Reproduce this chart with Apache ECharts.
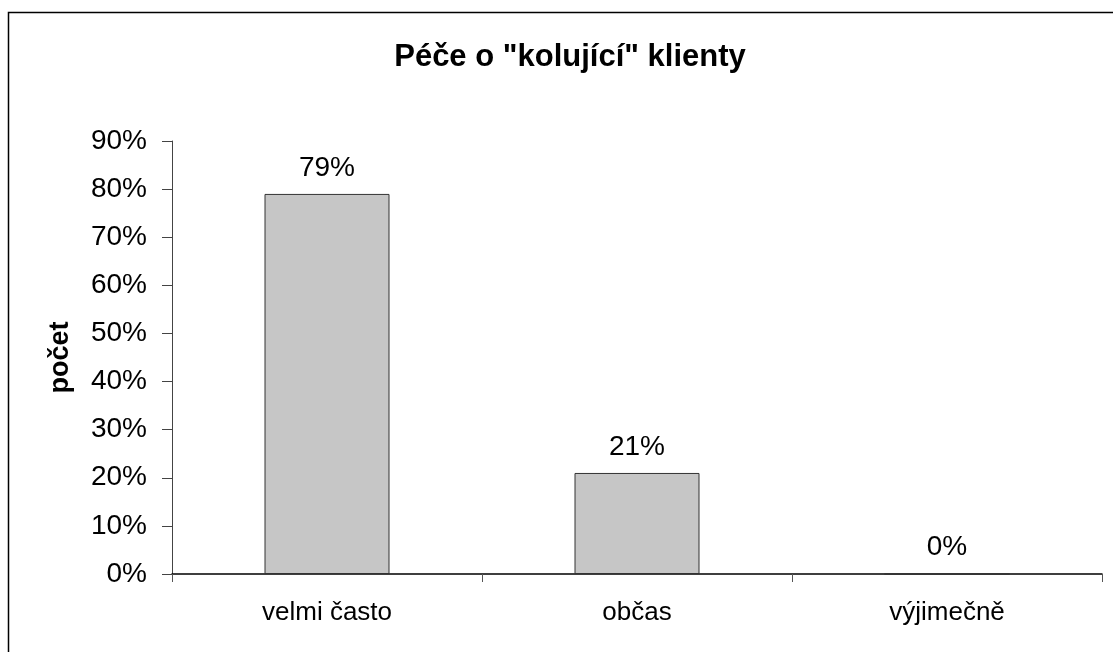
<!DOCTYPE html>
<html>
<head>
<meta charset="utf-8">
<title>Péče o "kolující" klienty</title>
<script src="https://cdn.jsdelivr.net/npm/echarts@6/dist/echarts.min.js"></script>
<style>
  html, body { margin: 0; padding: 0; background: #fff; }
  #chart { width: 1113px; height: 652px; }
</style>
</head>
<body>
<div id="chart"></div>
<script>
// data
const categories = ['velmi často', 'občas', 'výjimečně'];
const values = [79, 21, 0];
const yTicks = [0, 10, 20, 30, 40, 50, 60, 70, 80, 90];

const font = 'Liberation Sans, Arial, sans-serif';

const chart = echarts.init(document.getElementById('chart'));

chart.setOption({
  backgroundColor: '#fff',
  animation: false,
  title: {
    text: 'Péče o "kolující" klienty',
    left: 565,
    top: 37,
    textAlign: 'center',
    textStyle: { fontFamily: font, fontSize: 31, fontWeight: 'bold', color: '#000' }
  },
  graphic: [{
    type: 'rect',
    shape: { x: 8.5, y: 12.5, width: 1300, height: 900 },
    style: { fill: 'none', stroke: '#000', lineWidth: 1.5 },
    silent: true
  }],
  grid: { left: 172, right: 11, top: 141, bottom: 78 },
  xAxis: {
    type: 'category',
    data: categories,
    axisLine: { lineStyle: { color: '#000', width: 1.5 } },
    axisTick: { show: true, length: 8, lineStyle: { color: '#555' } },
    axisLabel: { fontFamily: font, fontSize: 26, color: '#000', margin: 26 }
  },
  yAxis: {
    type: 'value',
    min: yTicks[0],
    max: yTicks[yTicks.length - 1],
    interval: 10,
    name: 'počet',
    nameLocation: 'middle',
    nameGap: 98,
    nameTextStyle: { fontFamily: font, fontSize: 27, fontWeight: 'bold', color: '#000' },
    axisLine: { show: true, lineStyle: { color: '#444', width: 1 } },
    axisTick: { show: true, length: 10, lineStyle: { color: '#444' } },
    splitLine: { show: false },
    axisLabel: {
      fontFamily: font, fontSize: 28, color: '#000', margin: 25,
      formatter: '{value}%'
    }
  },
  series: [{
    type: 'bar',
    data: values,
    barWidth: 125,
    itemStyle: { color: '#c6c6c6', borderColor: '#333', borderWidth: 1 },
    label: {
      show: true,
      position: 'top',
      distance: 12,
      formatter: '{c}%',
      fontFamily: font,
      fontSize: 28,
      color: '#000'
    }
  }]
});
</script>
</body>
</html>
